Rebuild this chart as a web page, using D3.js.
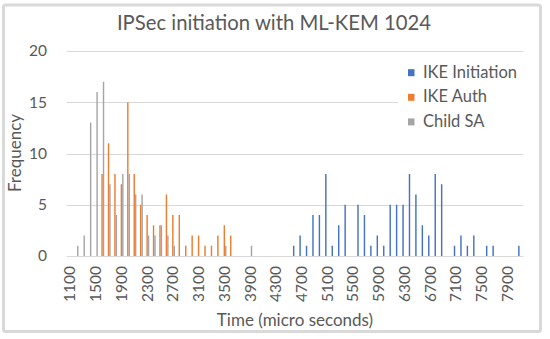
<!DOCTYPE html>
<html lang="en">
<head>
    <meta charset="UTF-8">
    <title>IPSec initiation</title>
    <script src="https://d3js.org/d3.v7.min.js"></script>
    <style>
      body { margin: 0; background: #fff; }
      text { font-family: Lato, "Open Sans", sans-serif; fill: #595959; }
    </style>
</head>
<body>
  <div class="graph_container"></div>

    <script type="text/javascript">
        // time buckets (micro seconds)
        var categories = [1100,1200,1300,1400,1500,1600,1700,1800,1900,2000,
                          2100,2200,2300,2400,2500,2600,2700,2800,2900,3000,
                          3100,3200,3300,3400,3500,3600,3700,3800,3900,4000,
                          4100,4200,4300,4400,4500,4600,4700,4800,4900,5000,
                          5100,5200,5300,5400,5500,5600,5700,5800,5900,6000,
                          6100,6200,6300,6400,6500,6600,6700,6800,6900,7000,
                          7100,7200,7300,7400,7500,7600,7700,7800,7900,8000,8100]

        var ike_init = [0,0,0,0,0,0,0,0,0,0,
                        0,0,0,0,0,0,0,0,0,0,
                        0,0,0,0,0,0,0,0,0,0,
                        0,0,0,0,0,1,2,1,4,4,
                        8,1,3,5,0,5,4,1,2,1,
                        5,5,5,8,6,3,2,8,7,0,
                        1,2,1,2,0,1,1,0,0,0,1]

        var ike_auth = [0,0,0,0,0,8,11,8,7,15,
                        8,5,4,3,3,6,4,4,1,2,
                        2,1,1,2,3,2,0,0,0,0,
                        0,0,0,0,0,0,0,0,0,0,
                        0,0,0,0,0,0,0,0,0,0,
                        0,0,0,0,0,0,0,0,0,0,
                        0,0,0,0,0,0,0,0,0,0,0]

        var child_sa = [0,1,2,13,16,17,7,4,8,8,
                        6,6,2,2,3,2,1,0,0,0,
                        0,0,0,0,1,0,0,0,1,0,
                        0,0,0,0,0,0,0,0,0,0,
                        0,0,0,0,0,0,0,0,0,0,
                        0,0,0,0,0,0,0,0,0,0,
                        0,0,0,0,0,0,0,0,0,0,0]

        var seriesNames = ["IKE Initiation", "IKE Auth", "Child SA"]
        var seriesValues = [ike_init, ike_auth, child_sa]
        var colors = ["#4472C4", "#ED7D31", "#A5A5A5"]
        var yTicks = [0, 5, 10, 15, 20]

        var w = 550
        var h = 339

        var svg = d3.select(".graph_container").append("svg").attr("width", w).attr("height", h)

        // outer frame
        svg.append("rect")
          .attr("x", 3.5).attr("y", 5)
          .attr("width", 537).attr("height", 326.5)
          .attr("rx", 2)
          .style("fill", "#fff")
          .style("stroke", "#d9d9d9")
          .style("stroke-width", 3)

        var xScale = d3.scaleBand()
          .domain(categories)
          .range([66.7, 523.5])

        var bw = xScale.bandwidth()
        var gap = bw * 0.75 / 4.5
        var xSub = d3.scaleBand()
          .domain(seriesNames)
          .range([gap, bw - gap])

        var yScale = d3.scaleLinear()
          .domain([0, 20])
          .range([256, 51])

        // gridlines
        svg.selectAll(".grid")
          .data(yTicks)
          .enter()
          .append("line")
          .attr("class", "grid")
          .attr("x1", xScale.range()[0])
          .attr("x2", xScale.range()[1])
          .attr("y1", function(d){ return Math.round(yScale(d)) + 0.5 })
          .attr("y2", function(d){ return Math.round(yScale(d)) + 0.5 })
          .style("stroke", "#d9d9d9")
          .style("stroke-width", 1)

        // bars
        var rows = []
        seriesValues.forEach(function(vals, s) {
          vals.forEach(function(v, i) {
            if (v > 0) rows.push({cat: categories[i], s: s, v: v})
          })
        })

        svg.selectAll(".bar")
          .data(rows)
          .enter()
          .append("rect")
          .attr("class", "bar")
          .attr("x", function(d){ return xScale(d.cat) + xSub(seriesNames[d.s]) })
          .attr("width", xSub.bandwidth())
          .attr("y", function(d){ return yScale(d.v) })
          .attr("height", function(d){ return yScale(0) - yScale(d.v) })
          .style("fill", function(d){ return colors[d.s] })

        // y tick labels
        svg.selectAll(".ylab")
          .data(yTicks)
          .enter()
          .append("text")
          .attr("class", "ylab")
          .attr("x", 47)
          .attr("y", function(d){ return yScale(d) })
          .attr("dy", "0.35em")
          .attr("text-anchor", "end")
          .style("font-size", "15.5px")
          .text(function(d){ return d })

        // x tick labels, every 4th bucket
        svg.selectAll(".xlab")
          .data(categories.filter(function(d, i){ return i % 4 == 0 }))
          .enter()
          .append("text")
          .attr("class", "xlab")
          .attr("transform", function(d){
            return "translate(" + (xScale(d) + bw / 2) + ",266) rotate(-90)" })
          .attr("dy", "0.35em")
          .attr("text-anchor", "end")
          .style("font-size", "15.5px")
          .text(function(d){ return d })

        // titles
        svg.append("text")
          .attr("x", 274).attr("y", 30)
          .attr("text-anchor", "middle")
          .style("font-size", "20.3px")
          .text("IPSec initiation with ML-KEM 1024")

        svg.append("text")
          .attr("x", 295).attr("y", 326)
          .attr("text-anchor", "middle")
          .style("font-size", "17px")
          .text("Time (micro seconds)")

        svg.append("text")
          .attr("transform", "translate(21,153) rotate(-90)")
          .attr("text-anchor", "middle")
          .style("font-size", "17px")
          .text("Frequency")

        // legend
        var legend = svg.append("g")
        legend.append("rect")
          .attr("x", 398).attr("y", 56)
          .attr("width", 130).attr("height", 78)
          .style("fill", "#fff")

        var items = legend.selectAll(".item")
          .data(seriesNames)
          .enter()
          .append("g")
          .attr("class", "item")
          .attr("transform", function(d, i){ return "translate(408," + (77.7 + i * 24.6) + ")" })

        items.append("rect")
          .attr("x", 0).attr("y", -8.5)
          .attr("width", 6.5).attr("height", 7)
          .style("fill", function(d, i){ return colors[i] })

        items.append("text")
          .attr("x", 15).attr("y", 0)
          .style("font-size", "16.5px")
          .text(function(d){ return d })
    </script>
</body>
</html>
